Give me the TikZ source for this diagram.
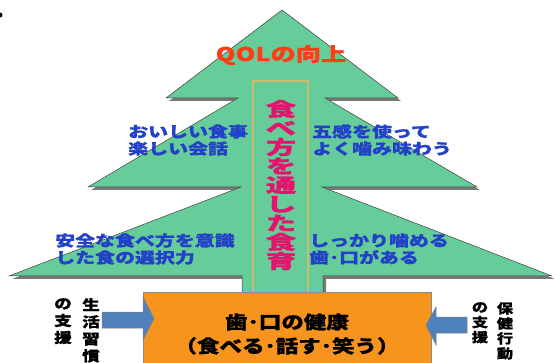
\documentclass[tikz,border=0pt]{standalone}
\usepackage{fontspec}
\newfontfamily\jpa[FakeStretch=1.33,FakeBold=0.8]{Noto Sans CJK JP}
\newfontfamily\jpb[FakeStretch=1.6,FakeBold=0.8]{Noto Sans CJK JP}
\newfontfamily\jpc[FakeStretch=1.25,FakeBold=0.8]{Noto Sans CJK JP}
\definecolor{treegreen}{RGB}{102,204,153}
\definecolor{shadowgray}{RGB}{120,120,120}
\definecolor{goldline}{RGB}{204,187,110}
\definecolor{boxorange}{RGB}{247,148,29}
\definecolor{arrowblue}{RGB}{79,129,189}
\definecolor{textblue}{RGB}{35,65,200}
\definecolor{vmagenta}{RGB}{228,20,110}
\definecolor{qolred}{RGB}{255,60,20}
\tikzset{
  treeshape/.style={fill=treegreen, draw=black!75, line width=0.5pt, line join=miter},
  shadowshape/.style={fill=shadowgray, transform canvas={xshift=3pt,yshift=-3pt}},
  bluetext/.style={text=textblue, inner sep=0pt, align=left, anchor=west,
    font=\jpa\bfseries\fontsize{15}{17}\selectfont},
  qoltext/.style={text=qolred, inner sep=0pt, font=\jpa\bfseries\fontsize{19}{21}\selectfont},
  verttext/.style={text=vmagenta, inner sep=0pt, align=center,
    font=\jpb\bfseries\fontsize{19}{19}\selectfont},
  goldbox/.style={draw=goldline, line width=1.5pt},
  orangebox/.style={fill=boxorange, draw=black!45, line width=0.6pt, inner sep=0pt},
  boxtext/.style={text=black, inner sep=0pt, align=center,
    font=\jpc\bfseries\fontsize{18}{24}\selectfont},
  sidetext/.style={text=black, inner sep=0pt, align=center, anchor=north,
    font=\jpc\bfseries\fontsize{14}{17}\selectfont},
  blockarrow/.style={fill=arrowblue, draw=black!50, line width=0.5pt},
}
\begin{document}
\begin{tikzpicture}[x=1pt,y=-1pt]
\useasboundingbox (0,0) rectangle (554,363);
\clip (0,0) rectangle (554,363);
\fill[white] (0,0) rectangle (554,363);
% bullet fragment
\fill[black] (0,15) circle (2.5);
% tree coordinates
\coordinate (apex) at (282,10);
\coordinate (r1) at (398,98);
\coordinate (r1i) at (325,98);
\coordinate (r2) at (477,187);
\coordinate (r2i) at (322,187);
\coordinate (r3) at (552,276);
\coordinate (tr) at (323,276);
\coordinate (trb) at (323,296);
\coordinate (tlb) at (242,296);
\coordinate (tl) at (242,276);
\coordinate (l3) at (9,276);
\coordinate (l2i) at (241,187);
\coordinate (l2) at (88,187);
\coordinate (l1i) at (238,98);
\coordinate (l1) at (166,98);
\fill[shadowshape] (apex) -- (r1) -- (r1i) -- (r2) -- (r2i) -- (r3) -- (tr) -- (trb)
  -- (tlb) -- (tl) -- (l3) -- (l2i) -- (l2) -- (l1i) -- (l1) -- cycle;
\draw[treeshape] (apex) -- (r1) -- (r1i) -- (r2) -- (r2i) -- (r3) -- (tr) -- (trb)
  -- (tlb) -- (tl) -- (l3) -- (l2i) -- (l2) -- (l1i) -- (l1) -- cycle;
% gold box
\draw[goldbox] (253,81) rectangle (308,293);
% texts on tree
\node[qoltext] (qol) at (281,55) {QOLの向上};
\node[verttext] (vert) at (281,185) {食\\べ\\方\\を\\通\\し\\た\\食\\育};
\node[bluetext] (t1) at (128,140) {おいしい食事\\楽しい会話};
\node[bluetext] (t2) at (312,140) {五感を使って\\よく噛み味わう};
\node[bluetext] (t3) at (55,249) {安全な食べ方を意識\\した食の選択力};
\node[bluetext] (t4) at (309,249) {しっかり噛める\\歯･口がある};
% orange box
\node[orangebox, anchor=north west, minimum width=288pt, minimum height=85pt] (health) at (143,292) {};
\node[boxtext] (htext) at (287,334) {歯･口の健康\\（食べる･話す･笑う）};
% arrows
\draw[blockarrow] (102,312) -- (143,312) -- (143,297) -- (154,318.5) -- (143,340) -- (143,328) -- (102,328) -- cycle;
\draw[blockarrow] (426,325) -- (436,307) -- (436,317) -- (467,317) -- (467,333) -- (436,333) -- (436,345) -- cycle;
% side texts
\node[sidetext] (s1) at (91,298) {生\\活\\習\\慣};
\node[sidetext] (s2) at (63,298) {の\\支\\援};
\node[sidetext, font=\jpc\bfseries\fontsize{13}{15}\selectfont] (s3) at (505,302) {保\\健\\行\\動};
\node[sidetext, font=\jpc\bfseries\fontsize{13}{15}\selectfont] (s4) at (480,302) {の\\支\\援};
\end{tikzpicture}
\end{document}
